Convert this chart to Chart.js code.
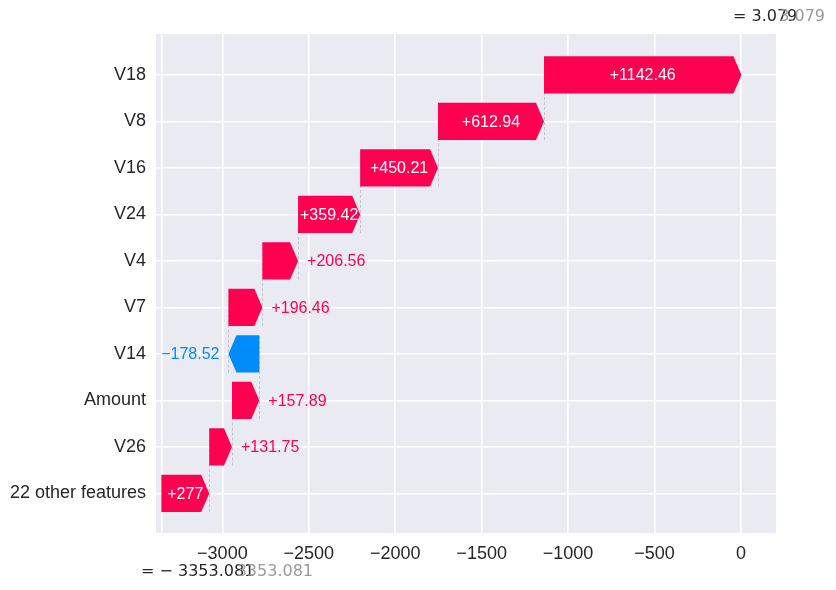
<!DOCTYPE html>
<html>
<head>
<meta charset="utf-8">
<script src="https://cdn.jsdelivr.net/npm/chart.js@4"></script>
<style>
  html, body { margin: 0; padding: 0; background: #fff; }
  canvas { display: block; }
</style>
</head>
<body>
<canvas id="waterfall" width="836" height="590" style="width:836px;height:590px"></canvas>
<script>
/* SHAP-style waterfall drawn with Chart.js floating bars. */

const features = ["V18", "V8", "V16", "V24", "V4", "V7", "V14", "Amount", "V26", "22 other features"];
const shapValues = [1142.46, 612.94, 450.21, 359.42, 206.56, 196.46, -178.52, 157.89, 131.75, 276.99];
const valueTexts = ["+1142.46", "+612.94", "+450.21", "+359.42", "+206.56", "+196.46", "\u2212178.52", "+157.89", "+131.75", "+277"];
const baseValue = -3353.081;
const outputValue = 3.079;
const xTicks = [-3000, -2500, -2000, -1500, -1000, -500, 0];

const RED = "#ff0051";
const BLUE = "#008bfb";
const TEXT = "#262626";
const SANS = "'Liberation Sans', Arial, sans-serif";
const MATH = "'DejaVu Sans', sans-serif";

// cumulative start/end per row, walking up from the bottom row
const spans = new Array(features.length);
let cum = baseValue;
for (let i = features.length - 1; i >= 0; i--) {
  spans[i] = [cum, cum + shapValues[i]];
  cum += shapValues[i];
}

function minusFmt(v) {
  return v < 0 ? "\u2212" + Math.abs(v) : String(v);
}

const waterfallPlugin = {
  id: "waterfall",
  beforeDraw(chart) {
    const { ctx, chartArea: a } = chart;
    ctx.save();
    ctx.fillStyle = "#eaeaf2";
    ctx.fillRect(a.left, a.top, a.right - a.left, a.bottom - a.top);
    ctx.restore();
  },
  beforeDatasetsDraw(chart) {
    const { ctx } = chart;
    const xs = chart.scales.x, ys = chart.scales.y;
    ctx.save();
    ctx.strokeStyle = "#bbbbbb";
    ctx.lineWidth = 0.8;
    ctx.setLineDash([3, 2]);
    for (let i = 1; i < features.length; i++) {
      const px = Math.round(xs.getPixelForValue(spans[i][1])) + 0.5;
      ctx.beginPath();
      ctx.moveTo(px, ys.getPixelForValue(i + 0.4));
      ctx.lineTo(px, ys.getPixelForValue(i - 1 - 0.4));
      ctx.stroke();
    }
    ctx.restore();
  },
  afterDatasetsDraw(chart) {
    const { ctx } = chart;
    const xs = chart.scales.x, ys = chart.scales.y;
    const hl = 8;
    ctx.save();
    ctx.font = "16px " + SANS;
    ctx.textBaseline = "middle";
    spans.forEach((s, i) => {
      const x0 = xs.getPixelForValue(s[0]);
      const x1 = xs.getPixelForValue(s[1]);
      const yc = ys.getPixelForValue(i);
      const top = ys.getPixelForValue(i - 0.4), bot = ys.getPixelForValue(i + 0.4);
      const pos = shapValues[i] >= 0;
      const color = pos ? RED : BLUE;
      const dir = pos ? 1 : -1;
      const len = Math.abs(x1 - x0);
      const head = Math.min(hl, len);
      ctx.fillStyle = color;
      ctx.beginPath();
      ctx.moveTo(x0, top);
      ctx.lineTo(x1 - dir * head, top);
      ctx.lineTo(x1, yc);
      ctx.lineTo(x1 - dir * head, bot);
      ctx.lineTo(x0, bot);
      ctx.closePath();
      ctx.fill();

      const txt = valueTexts[i];
      const tw = ctx.measureText(txt).width;
      if (tw + 2 < len) {
        ctx.fillStyle = "#ffffff";
        ctx.textAlign = "center";
        ctx.fillText(txt, (x0 + x1) / 2, yc + 1);
      } else {
        ctx.fillStyle = color;
        ctx.textAlign = pos ? "left" : "right";
        ctx.fillText(txt, x1 + dir * 9, yc + 1);
      }
    });

    // base value / model output annotations
    ctx.font = "16px " + MATH;
    ctx.textAlign = "left";
    ctx.fillStyle = TEXT;
    ctx.fillText("= \u2212 " + Math.abs(baseValue).toFixed(3), 141, 572);
    ctx.fillText("= " + outputValue.toFixed(3), 733, 17);
    ctx.textAlign = "right";
    ctx.fillStyle = "#999999";
    ctx.fillText(Math.abs(baseValue).toFixed(3), 313, 572);
    ctx.fillText(outputValue.toFixed(3), 825, 17);
    ctx.restore();
  }
};

const gridStyle = { color: "#ffffff", lineWidth: 1.6, drawTicks: false, offset: false };

new Chart(document.getElementById("waterfall"), {
  type: "bar",
  data: {
    datasets: [{
      data: spans.map((s, i) => ({ x: s, y: i })),
      backgroundColor: "rgba(0,0,0,0)",
      borderWidth: 0,
      categoryPercentage: 1.0,
      barPercentage: 0.8,
    }],
  },
  options: {
    indexAxis: "y",
    responsive: false,
    animation: false,
    devicePixelRatio: 1,
    layout: { padding: { top: 34, right: 60, left: 0, bottom: 0 } },
    plugins: { legend: { display: false }, tooltip: { enabled: false } },
    scales: {
      x: {
        type: "linear",
        min: -3384,
        max: 203,
        offset: false,
        grid: gridStyle,
        border: { display: false },
        afterBuildTicks: (s) => { s.ticks = [baseValue].concat(xTicks).map((v) => ({ value: v })); },
        afterFit: (s) => { s.height = 57; },
        ticks: {
          color: TEXT,
          font: { family: SANS, size: 18 },
          padding: 10,
          maxRotation: 0,
          autoSkip: false,
          callback: (v) => (xTicks.includes(v) ? minusFmt(v) : ""),
        },
      },
      y: {
        type: "linear",
        min: -0.88,
        max: 9.85,
        reverse: true,
        offset: false,
        grid: gridStyle,
        border: { display: false },
        afterBuildTicks: (s) => { s.ticks = features.map((_, i) => ({ value: i })); },
        afterFit: (s) => { s.width = 156; },
        ticks: {
          color: TEXT,
          font: { family: SANS, size: 18 },
          padding: 10,
          autoSkip: false,
          callback: (v) => features[v] || "",
        },
      },
    },
  },
  plugins: [waterfallPlugin],
});
</script>
</body>
</html>
